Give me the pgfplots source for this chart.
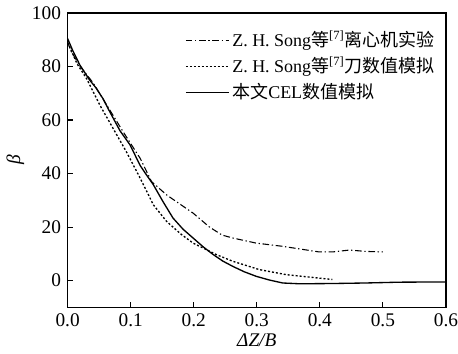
\documentclass[border=0pt]{standalone}
\usepackage{pgfplots}
\pgfplotsset{compat=1.18}
\usepackage{fontspec}
\setmainfont{Liberation Serif}
\newfontfamily\cjk{Noto Sans CJK SC}

\begin{document}
\fontsize{14.5}{17}\selectfont
\begin{tikzpicture}
\begin{axis}[
  scale only axis,
  width=284pt, height=221pt,
  xmin=0, xmax=0.6, ymin=-10, ymax=100,
  xtick={0,0.1,...,0.6},
  ytick={0,20,...,100},
  xticklabel style={inner xsep=0pt, /pgf/number format/.cd,fixed,fixed zerofill,precision=1},
  /pgf/number format/assume math mode=true,
  tick label style={font=\fontsize{14.5}{17}\selectfont},
  label style={font=\fontsize{14.5}{17}\selectfont},
  tick align=inside,
  xtick pos=bottom, ytick pos=left,
  major tick length=4pt,
  axis line style={line width=0.9pt},
  tick style={line width=0.8pt, black},
  xlabel={\textit{ΔZ/B}},
  ylabel={\textit{β}},
  xlabel style={yshift=5pt},
  ylabel style={yshift=-4pt},
  legend style={draw=none, fill=none, at={(rel axis cs:0.988,0.958)}, anchor=north east,
    row sep=1.8pt, font=\fontsize{13.5}{16}\selectfont},
  legend cell align=left,
  legend image post style={xscale=1.9},
]
% centrifuge test
\addplot[black, line width=0.8pt, dash pattern=on 5pt off 2pt on 1pt off 2pt] coordinates {
(0,89) (0.006,85.5) (0.02,80) (0.04,74) (0.062,65.6) (0.088,55.6) (0.115,45.7) (0.133,37)
(0.157,32) (0.199,25.2) (0.225,20) (0.245,17) (0.262,15.9) (0.299,14) (0.341,12.8) (0.399,10.7)
(0.42,10.7) (0.447,11.4) (0.473,10.9) (0.5,10.7)};
\addlegendentry{Z. H. Song{\cjk 等}\textsuperscript{[7]}{\cjk 离心机实验}}
% published numerical
\addplot[black, line width=1pt, dash pattern=on 1.5pt off 1.5pt] coordinates {
(0,89) (0.015,81) (0.03,75.5) (0.051,65.6) (0.072,56.9) (0.093,48.2) (0.115,38.3) (0.136,28.3)
(0.157,22.1) (0.18,17.3) (0.199,14) (0.236,9.7) (0.262,7.2) (0.304,4.1) (0.347,2.2) (0.42,0.4)};
\addlegendentry{Z. H. Song{\cjk 等}\textsuperscript{[7]}{\cjk 刀数值模拟}}
% CEL simulation
\addplot[black, line width=1pt] coordinates {
(0,90.4) (0.008,86) (0.0195,80.5) (0.035,74.9) (0.045,72) (0.056,68) (0.067,63) (0.083,56)
(0.099,50.7) (0.115,43) (0.125,39.5) (0.136,35.8) (0.151,29.6) (0.167,23.4) (0.183,19.2)
(0.199,15.9) (0.215,12.6) (0.231,9.7) (0.246,7.3) (0.262,5.3) (0.28,3.3) (0.299,1.6)
(0.32,0.2) (0.341,-0.9) (0.368,-1.2) (0.42,-1.1) (0.473,-0.9) (0.526,-0.6) (0.6,-0.5)};
\addlegendentry{{\cjk 本文}CEL{\cjk 数值模拟}}
\end{axis}
\end{tikzpicture}
\end{document}
